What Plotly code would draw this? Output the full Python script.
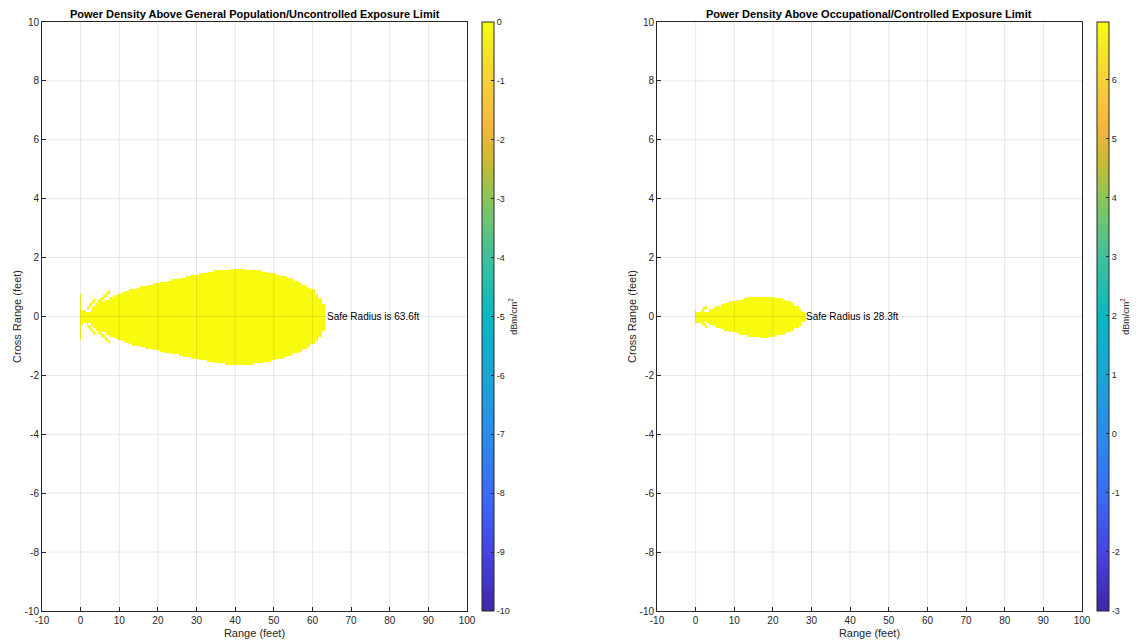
import numpy as np
import plotly.graph_objects as go

# ---------------- data ----------------
# Main-lobe half-width (feet) of the region above the limit, at 1-ft range stations
gp_halfwidth = [0.25, 0.22, 0.20, 0.30, 0.38, 0.46, 0.53, 0.60, 0.66, 0.72,
                0.78, 0.83, 0.87, 0.91, 0.95, 0.99, 1.02, 1.05, 1.08, 1.11,
                1.14, 1.17, 1.20, 1.23, 1.26, 1.29, 1.32, 1.35, 1.38, 1.41,
                1.44, 1.47, 1.49, 1.52, 1.54, 1.56, 1.58, 1.59, 1.60, 1.61,
                1.61, 1.61, 1.61, 1.60, 1.60, 1.58, 1.57, 1.55, 1.53, 1.50,
                1.47, 1.44, 1.40, 1.36, 1.32, 1.27, 1.22, 1.15, 1.08, 1.00,
                0.91, 0.80, 0.65, 0.45]
occ_halfwidth = [0.20, 0.20, 0.16, 0.20, 0.27, 0.33, 0.38, 0.43, 0.47, 0.51,
                 0.54, 0.57, 0.60, 0.63, 0.66, 0.68, 0.69, 0.70, 0.70, 0.69,
                 0.67, 0.64, 0.61, 0.57, 0.52, 0.46, 0.39, 0.30, 0.16]

# near-field side lobes: range start/end, cross-range start/end (mirrored about 0)
gp_lobe_x0 = [2.9, 1.6]
gp_lobe_x1 = [7.6, 3.5]
gp_lobe_y0 = [0.26, 0.26]
gp_lobe_y1 = [0.86, 0.55]
gp_boresight_spike = 0.78
occ_lobe_x0 = [1.5]
occ_lobe_x1 = [2.8]
occ_lobe_y0 = [0.18]
occ_lobe_y1 = [0.34]
occ_boresight_spike = 0.22

gp_safe_radius = 63.6
occ_safe_radius = 28.3
gp_crange = [-10, 0]
occ_crange = [-3, 6.98]
gp_cticks = list(range(-10, 1))
occ_cticks = list(range(-3, 7))

titles = ["Power Density Above General Population/Uncontrolled Exposure Limit",
          "Power Density Above Occupational/Controlled Exposure Limit"]
x_ticks = list(range(-10, 101, 10))
y_ticks = list(range(-10, 11, 2))

parula = [[0.00, "#3e26a8"], [0.10, "#4743e6"], [0.20, "#3a6cf7"],
          [0.30, "#2a8cec"], [0.40, "#18a6d6"], [0.50, "#07b8c3"],
          [0.60, "#3dc19c"], [0.70, "#8ac65a"], [0.76, "#c8bb32"],
          [0.82, "#f5b53c"], [0.88, "#f8c93a"], [0.94, "#f4e12a"],
          [1.00, "#f9fb0e"]]

FONT = "Liberation Sans, Arial, Helvetica, sans-serif"
TXT = "#262626"
GRID = "rgba(38,38,38,0.11)"


def build_field(halfwidth, lx0, lx1, ly0, ly1, spike, value):
    xs = np.arange(-0.25, len(halfwidth) + 0.01, 0.25)
    ys = np.arange(-1.8, 1.8001, 0.05)
    Z = np.full((len(ys), len(xs)), np.nan)
    for j, x in enumerate(xs):
        st = int(round(x))
        if 0 <= st < len(halfwidth) and x >= -0.2:
            Z[np.abs(ys) <= halfwidth[st], j] = value
        if abs(x) <= 0.13:
            Z[np.abs(ys) <= spike, j] = value
        for a0, a1, b0, b1 in zip(lx0, lx1, ly0, ly1):
            if a0 <= x <= a1:
                yl = b0 + (x - a0) * (b1 - b0) / (a1 - a0)
                Z[np.abs(np.abs(ys) - yl) <= 0.06, j] = value
    return xs, ys, Z


def lbl(v):
    return str(v)  # plain hyphen minus like the reference


fig = go.Figure()

panels = [
    dict(hw=gp_halfwidth, lx0=gp_lobe_x0, lx1=gp_lobe_x1, ly0=gp_lobe_y0, ly1=gp_lobe_y1,
         spike=gp_boresight_spike, crange=gp_crange, cticks=gp_cticks, radius=gp_safe_radius,
         dom=[42 / 1146, 467 / 1146], cbx=482 / 1146),
    dict(hw=occ_halfwidth, lx0=occ_lobe_x0, lx1=occ_lobe_x1, ly0=occ_lobe_y0, ly1=occ_lobe_y1,
         spike=occ_boresight_spike, crange=occ_crange, cticks=occ_cticks, radius=occ_safe_radius,
         dom=[657 / 1146, 1082 / 1146], cbx=1097 / 1146),
]

ydom = [1 - 611 / 643, 1 - 22 / 643]
shapes = []

for i, p in enumerate(panels):
    xs, ys, Z = build_field(p["hw"], p["lx0"], p["lx1"], p["ly0"], p["ly1"],
                            p["spike"], p["crange"][1])
    suffix = "" if i == 0 else str(i + 1)
    fig.add_trace(go.Heatmap(
        x=xs, y=ys, z=Z, zmin=p["crange"][0], zmax=p["crange"][1],
        colorscale=parula, zsmooth=False, hoverinfo="skip",
        xaxis="x" + suffix, yaxis="y" + suffix,
        colorbar=dict(
            x=p["cbx"], xanchor="left", y=ydom[0], yanchor="bottom",
            len=ydom[1] - ydom[0], lenmode="fraction", thickness=12,
            thicknessmode="pixels", outlinewidth=1, outlinecolor="#262626",
            ticks="inside", ticklen=3, tickcolor="#262626",
            tickvals=p["cticks"], ticktext=[lbl(v) for v in p["cticks"]],
            tickfont=dict(family=FONT, size=9, color=TXT),
            xpad=0, ypad=0,
            title=dict(text="dBm/cm<sup>2</sup>", side="right",
                       font=dict(family=FONT, size=9, color=TXT)),
        ),
    ))
    # grid lines drawn over the field, as in the reference
    for xv in x_ticks[1:-1]:
        shapes.append(dict(type="line", xref="x" + suffix, yref="y" + suffix,
                           x0=xv, x1=xv, y0=-10, y1=10, layer="above",
                           line=dict(color=GRID, width=1)))
    for yv in y_ticks[1:-1]:
        shapes.append(dict(type="line", xref="x" + suffix, yref="y" + suffix,
                           x0=-10, x1=100, y0=yv, y1=yv, layer="above",
                           line=dict(color=GRID, width=1)))
    fig.add_annotation(
        x=p["radius"], y=0, xref="x" + suffix, yref="y" + suffix,
        text="Safe Radius is %.1fft" % p["radius"], showarrow=False,
        xanchor="left", yanchor="middle", xshift=-1,
        font=dict(family=FONT, size=10, color="#000000"),
    )
    cx = (p["dom"][0] + p["dom"][1]) / 2
    fig.add_annotation(
        x=cx, y=1 - 14 / 643, xref="paper", yref="paper", text="<b>%s</b>" % titles[i],
        showarrow=False, xanchor="center", yanchor="middle",
        font=dict(family=FONT, size=11, color="#000000"),
    )
    axcommon = dict(showgrid=False, zeroline=False,
                    showline=True, linecolor="#262626", linewidth=1, mirror=True,
                    ticks="inside", ticklen=4, tickcolor="#262626", automargin=False,
                    tickfont=dict(family=FONT, size=10, color=TXT), layer="above traces")
    fig.update_layout(**{
        "xaxis" + suffix: dict(domain=p["dom"], range=[-10, 100], tickvals=x_ticks,
                               ticktext=[lbl(v) for v in x_ticks],
                               anchor="y" + suffix, autorange=False,
                               title=dict(text="Range (feet)", standoff=4,
                                          font=dict(family=FONT, size=11, color=TXT)),
                               **axcommon),
        "yaxis" + suffix: dict(domain=ydom, range=[-10, 10], tickvals=y_ticks,
                               ticktext=[lbl(v) for v in y_ticks],
                               anchor="x" + suffix, autorange=False,
                               title=dict(text="Cross Range (feet)", standoff=0,
                                          font=dict(family=FONT, size=11, color=TXT)),
                               **axcommon),
    })

fig.update_layout(
    width=1146, height=643, margin=dict(l=0, r=0, t=0, b=0),
    paper_bgcolor="white", plot_bgcolor="white", showlegend=False, shapes=shapes,
)

fig.write_html("out.html")
